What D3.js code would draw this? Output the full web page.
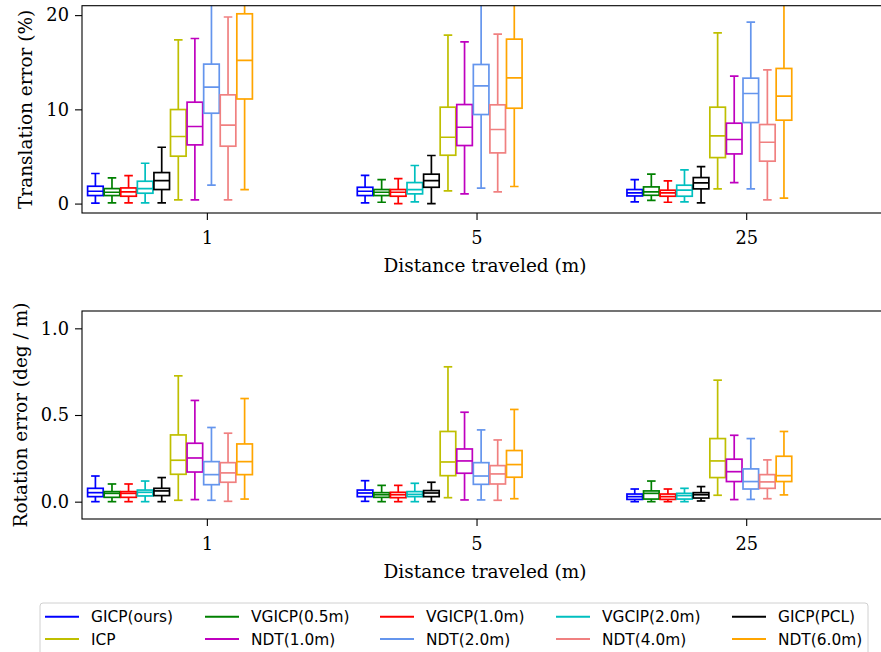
<!DOCTYPE html>
<html>
<head>
<meta charset="utf-8">
<script src="https://cdn.jsdelivr.net/npm/d3@7"></script>
<style>
  html, body { margin: 0; padding: 0; background: #fff; }
  svg { display: block; }
</style>
</head>
<body>
<div id="chart"></div>
<script>
// ── data ─────────────────────────────────────────
const distances = ["1", "5", "25"];
// plotting order inside a group
const order = ["GICP(ours)", "VGICP(0.5m)", "VGICP(1.0m)", "VGCIP(2.0m)", "GICP(PCL)",
               "ICP", "NDT(1.0m)", "NDT(2.0m)", "NDT(4.0m)", "NDT(6.0m)"];
const palette = ["#0000ff", "#008000", "#ff0000", "#00bfbf", "#000000",
                 "#bfbf00", "#bf00bf", "#6495ed", "#f08080", "#ffa500"];

const transTicks = [0, 10, 20];
const rotTicks = [0.0, 0.5, 1.0];

// translation error (%) — rows: distance, cols: order
const transLo  = [[0.05, 0.07, 0.07, 0.07, 0.07, 0.39, 0.39, 1.95, 0.39, 1.49],
                  [0.07, 0.14, 0.00, 0.18, 0.00, 1.35, 1.03, 1.63, 1.24, 1.81],
                  [0.18, 0.35, 0.14, 0.18, 0.07, 1.56, 2.23, 1.56, 0.39, 0.57]];
const transQ1  = [[0.85, 0.85, 0.78, 1.10, 1.49, 5.03, 6.23, 9.59, 6.09, 11.10],
                  [0.85, 0.85, 0.78, 1.03, 1.73, 5.13, 6.16, 9.45, 5.38, 10.12],
                  [0.81, 0.88, 0.78, 0.78, 1.56, 4.88, 5.27, 8.60, 4.50, 8.85]];
const transMed = [[1.31, 1.20, 1.24, 1.59, 2.44, 7.12, 8.18, 12.35, 8.32, 15.19],
                  [1.31, 1.20, 1.20, 1.49, 2.44, 7.04, 8.10, 12.50, 7.86, 13.35],
                  [1.13, 1.24, 1.13, 1.42, 2.19, 7.19, 6.80, 11.68, 6.51, 11.40]];
const transQ3  = [[1.84, 1.59, 1.66, 2.37, 3.29, 9.98, 10.76, 14.80, 11.54, 20.14],
                  [1.73, 1.49, 1.49, 2.23, 3.12, 10.23, 10.51, 14.76, 10.48, 17.45],
                  [1.49, 1.77, 1.42, 1.95, 2.76, 10.23, 8.53, 13.31, 8.39, 14.34]];
const transHi  = [[3.19, 2.73, 2.97, 4.28, 5.98, 17.38, 17.52, 24.0, 19.80, 24.0],
                  [3.00, 2.55, 2.65, 4.04, 5.10, 17.88, 17.17, 24.0, 17.98, 24.0],
                  [2.55, 3.12, 2.41, 3.58, 3.93, 18.12, 13.52, 19.26, 14.19, 24.0]];

// rotation error (deg / m)
const rotLo  = [[0.000, 0.000, 0.000, 0.000, 0.000, 0.008, 0.012, 0.008, 0.002, 0.015],
                [0.002, 0.000, 0.000, 0.000, 0.000, 0.023, 0.010, 0.010, 0.008, 0.017],
                [0.000, 0.000, 0.000, 0.000, 0.004, 0.037, 0.012, 0.013, 0.017, 0.039]];
const rotQ1  = [[0.029, 0.025, 0.025, 0.033, 0.035, 0.158, 0.171, 0.098, 0.112, 0.156],
                [0.029, 0.025, 0.023, 0.029, 0.029, 0.150, 0.164, 0.100, 0.102, 0.141],
                [0.013, 0.015, 0.013, 0.015, 0.021, 0.139, 0.116, 0.073, 0.077, 0.116]];
const rotMed = [[0.052, 0.048, 0.048, 0.054, 0.062, 0.239, 0.252, 0.156, 0.166, 0.231],
                [0.050, 0.040, 0.040, 0.042, 0.050, 0.229, 0.235, 0.148, 0.160, 0.214],
                [0.029, 0.048, 0.029, 0.035, 0.040, 0.235, 0.173, 0.116, 0.114, 0.150]];
const rotQ3  = [[0.077, 0.058, 0.058, 0.067, 0.077, 0.385, 0.337, 0.231, 0.225, 0.333],
                [0.067, 0.052, 0.054, 0.058, 0.064, 0.405, 0.304, 0.225, 0.208, 0.295],
                [0.044, 0.062, 0.044, 0.048, 0.052, 0.364, 0.245, 0.189, 0.156, 0.262]];
const rotHi  = [[0.148, 0.102, 0.102, 0.119, 0.139, 0.726, 0.584, 0.428, 0.395, 0.595],
                [0.121, 0.094, 0.094, 0.106, 0.112, 0.778, 0.516, 0.414, 0.356, 0.532],
                [0.073, 0.119, 0.073, 0.077, 0.087, 0.701, 0.383, 0.364, 0.241, 0.405]];

// ── layout ───────────────────────────────────────
const W = 881, H = 652;
const serif = "'DejaVu Serif', serif";
const sans = "'DejaVu Sans', sans-serif";

const svg = d3.select("#chart").append("svg")
    .attr("width", W).attr("height", H);

const x = d3.scaleLinear().domain([-0.463, 2.6]).range([82, 908]);
const band = d3.scaleBand().domain(order).range([-0.4422, 0.1689]).paddingInner(0.06);
const color = d3.scaleOrdinal().domain(order).range(palette);

function panel(id, top, bottom, yDomain, ticks, fmt, ylab, labX, stats) {
    const y = d3.scaleLinear().domain(yDomain).range([bottom, top]);
    const g = svg.append("g");

    g.append("clipPath").attr("id", id)
      .append("rect").attr("x", x.range()[0]).attr("y", top)
      .attr("width", x.range()[1] - x.range()[0]).attr("height", bottom - top);

    const plot = g.append("g").attr("clip-path", `url(#${id})`);
    const [lo, q1, med, q3, hi] = stats;
    const bw = x(band.bandwidth()) - x(0);
    const cap = bw * 0.55;

    distances.forEach((dist, di) => {
        order.forEach((m, mi) => {
            const cx = x(di + band(m) + band.bandwidth() / 2);
            const bg = plot.append("g")
                .attr("stroke", color(m)).attr("stroke-width", 1.7).attr("fill", "none");
            // whiskers + caps
            bg.append("line").attr("x1", cx).attr("x2", cx)
              .attr("y1", y(q3[di][mi])).attr("y2", y(hi[di][mi]));
            bg.append("line").attr("x1", cx).attr("x2", cx)
              .attr("y1", y(q1[di][mi])).attr("y2", y(lo[di][mi]));
            bg.append("line").attr("x1", cx - cap / 2).attr("x2", cx + cap / 2)
              .attr("y1", y(hi[di][mi])).attr("y2", y(hi[di][mi]));
            bg.append("line").attr("x1", cx - cap / 2).attr("x2", cx + cap / 2)
              .attr("y1", y(lo[di][mi])).attr("y2", y(lo[di][mi]));
            // box
            bg.append("rect").attr("x", cx - bw / 2).attr("width", bw)
              .attr("y", y(q3[di][mi])).attr("height", y(q1[di][mi]) - y(q3[di][mi]));
            // median
            bg.append("line").attr("x1", cx - bw / 2).attr("x2", cx + bw / 2)
              .attr("y1", y(med[di][mi])).attr("y2", y(med[di][mi]));
        });
    });

    // spines
    g.append("rect").attr("x", x.range()[0]).attr("y", top)
      .attr("width", x.range()[1] - x.range()[0]).attr("height", bottom - top)
      .attr("fill", "none").attr("stroke", "#000").attr("stroke-width", 1.1);

    const yAxis = g.append("g").attr("transform", `translate(${x.range()[0]},0)`)
        .call(d3.axisLeft(y).tickValues(ticks).tickFormat(fmt).tickSize(7).tickPadding(6));
    yAxis.select(".domain").remove();
    yAxis.selectAll("text").attr("font-family", serif).attr("font-size", 17.8).attr("fill", "#000");

    const xAxis = g.append("g").attr("transform", `translate(0,${bottom})`)
        .call(d3.axisBottom(x).tickValues([0, 1, 2]).tickFormat(i => distances[i])
              .tickSize(7).tickPadding(11.5));
    xAxis.select(".domain").remove();
    xAxis.selectAll("text").attr("font-family", serif).attr("font-size", 17.8).attr("fill", "#000");
    g.selectAll(".tick line").attr("stroke-width", 1.1);

    g.append("text").attr("x", 485).attr("y", bottom + 59)
      .attr("text-anchor", "middle").attr("font-family", serif).attr("font-size", 18.5)
      .text("Distance traveled (m)");

    g.append("text")
      .attr("transform", `translate(${labX},${(top + bottom) / 2}) rotate(-90)`)
      .attr("text-anchor", "middle").attr("font-family", serif).attr("font-size", 18.5)
      .text(ylab);
}

panel("clipTop", 5.7, 213, [-1, 21], transTicks, d3.format("d"),
      "Translation error (%)", 32, [transLo, transQ1, transMed, transQ3, transHi]);
panel("clipBot", 311, 519, [-0.1, 1.1], rotTicks, d3.format(".1f"),
      "Rotation error (deg / m)", 27, [rotLo, rotQ1, rotMed, rotQ3, rotHi]);

// ── legend ───────────────────────────────────────
const legendRows = [
    ["GICP(ours)", "VGICP(0.5m)", "VGICP(1.0m)", "VGCIP(2.0m)", "GICP(PCL)"],
    ["ICP", "NDT(1.0m)", "NDT(2.0m)", "NDT(4.0m)", "NDT(6.0m)"]
];
const colX = [45, 205, 380, 556, 732];
const lg = svg.append("g");
lg.append("rect").attr("x", 40).attr("y", 603).attr("width", 828).attr("height", 60)
  .attr("rx", 3).attr("fill", "#fff").attr("stroke", "#d0d0d0").attr("stroke-width", 1);
legendRows.forEach((row, ri) => {
    row.forEach((m, ci) => {
        const yy = 616.7 + ri * 22.3;
        lg.append("line").attr("x1", colX[ci]).attr("x2", colX[ci] + 34)
          .attr("y1", yy).attr("y2", yy).attr("stroke", color(m)).attr("stroke-width", 2);
        lg.append("text").attr("x", colX[ci] + 46).attr("y", yy + 5.5)
          .attr("font-family", sans).attr("font-size", 15.4).text(m);
    });
});
</script>
</body>
</html>
